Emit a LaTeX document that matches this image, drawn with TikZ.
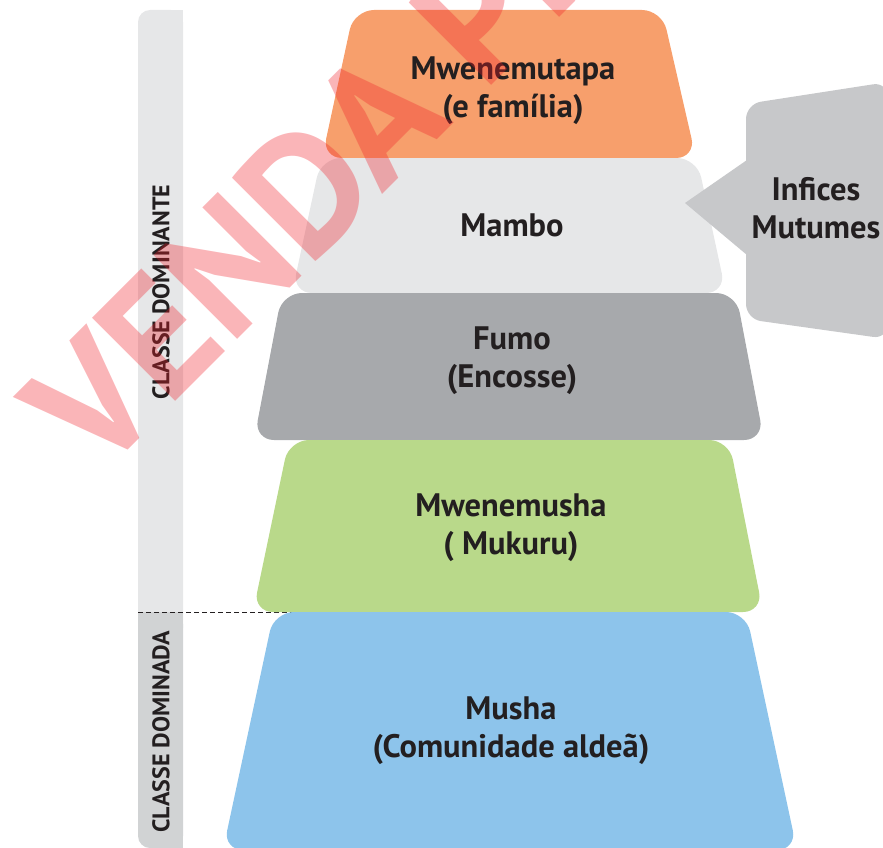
\documentclass[tikz,border=0pt]{standalone}
\usepackage{fontspec}
\setmainfont{PT Sans}
\usepackage{tikz}
\usetikzlibrary{positioning}

\definecolor{inkdark}{HTML}{231F20}
\definecolor{toporange}{HTML}{F79F6C}
\definecolor{mambogray}{HTML}{E6E7E8}
\definecolor{fumogray}{HTML}{A7A9AC}
\definecolor{mushagreen}{HTML}{B9D98A}
\definecolor{mushablue}{HTML}{8DC4EB}
\definecolor{calloutgray}{HTML}{C7C8CA}
\definecolor{barlight}{HTML}{E6E7E8}
\definecolor{bardark}{HTML}{D1D3D4}
\definecolor{stampred}{RGB}{240,30,40}

\begin{document}
\begin{tikzpicture}[
  x=1pt, y=-1pt,
  layer/.style={rounded corners=20pt},
  label/.style={font=\bfseries\fontsize{32.5}{38}\selectfont, text=inkdark, align=center, inner sep=0pt},
  side/.style={font=\bfseries\fontsize{24}{26}\selectfont, text=inkdark, rotate=90, inner sep=0pt},
  stamp/.style={font=\bfseries\fontsize{168}{168}\selectfont, text=stampred, text opacity=0.33, rotate=45, inner sep=0pt}
]
\useasboundingbox (0,0) rectangle (883,848);
\clip (0,0) rectangle (883,848);

% side bar
\fill[barlight, rounded corners=12pt] (138,10) rectangle (183,640);
\fill[barlight] (160,10) rectangle (183,30);
\fill[bardark, rounded corners=12pt] (138,612) rectangle (183,848);
\fill[bardark] (138,612) rectangle (183,640);
\fill[bardark] (160,820) rectangle (183,848);
\coordinate (splitL) at (138,612.5);
\coordinate (splitR) at (295,612.5);
\draw[inkdark, line width=0.8pt, dash pattern=on 5pt off 3pt] (splitL) -- (splitR);

% pyramid
\fill[toporange, layer] (354,10) -- (662,10) -- (696,158) -- (322,158) -- cycle;
\fill[mambogray, layer] (321,158) -- (697,158) -- (726,293) -- (292,293) -- cycle;
\fill[fumogray, layer] (282,293) -- (736,293) -- (764,440) -- (254,440) -- cycle;
\fill[mushagreen, layer] (289,440) -- (729,440) -- (763,612) -- (253,612) -- cycle;
\fill[mushablue, layer] (274,612) -- (746,612) -- (797,850) -- (223,850) -- cycle;

% callout
\fill[calloutgray, rounded corners=15pt] (746,104) -- (888,82) -- (888,339) -- (746,319) -- cycle;
\fill[calloutgray] (747,160) -- (685,203) -- (747,255) -- cycle;

\node[label] (mutapa) at (513,91) {Mwenemutapa\\(e família)};
\node[label] (mambo) at (512,225) {Mambo};
\node[label] (fumo) at (512,361) {Fumo\\(Encosse)};
\node[label] (mwenemusha) at (511,528) {Mwenemusha\\( Mukuru)};
\node[label] (musha) at (511,731) {Musha\\(Comunidade aldeã)};
\node[label] (infices) at (816,208) {Infices\\Mutumes};

\node[side] (dominante) at (161,292) {CLASSE DOMINANTE};
\node[side] (dominada) at (161,732) {CLASSE DOMINADA};

% watermark
\node[stamp, anchor=base west] (venda) at (97,480) {VENDA PROIBIDA};
\end{tikzpicture}
\end{document}
